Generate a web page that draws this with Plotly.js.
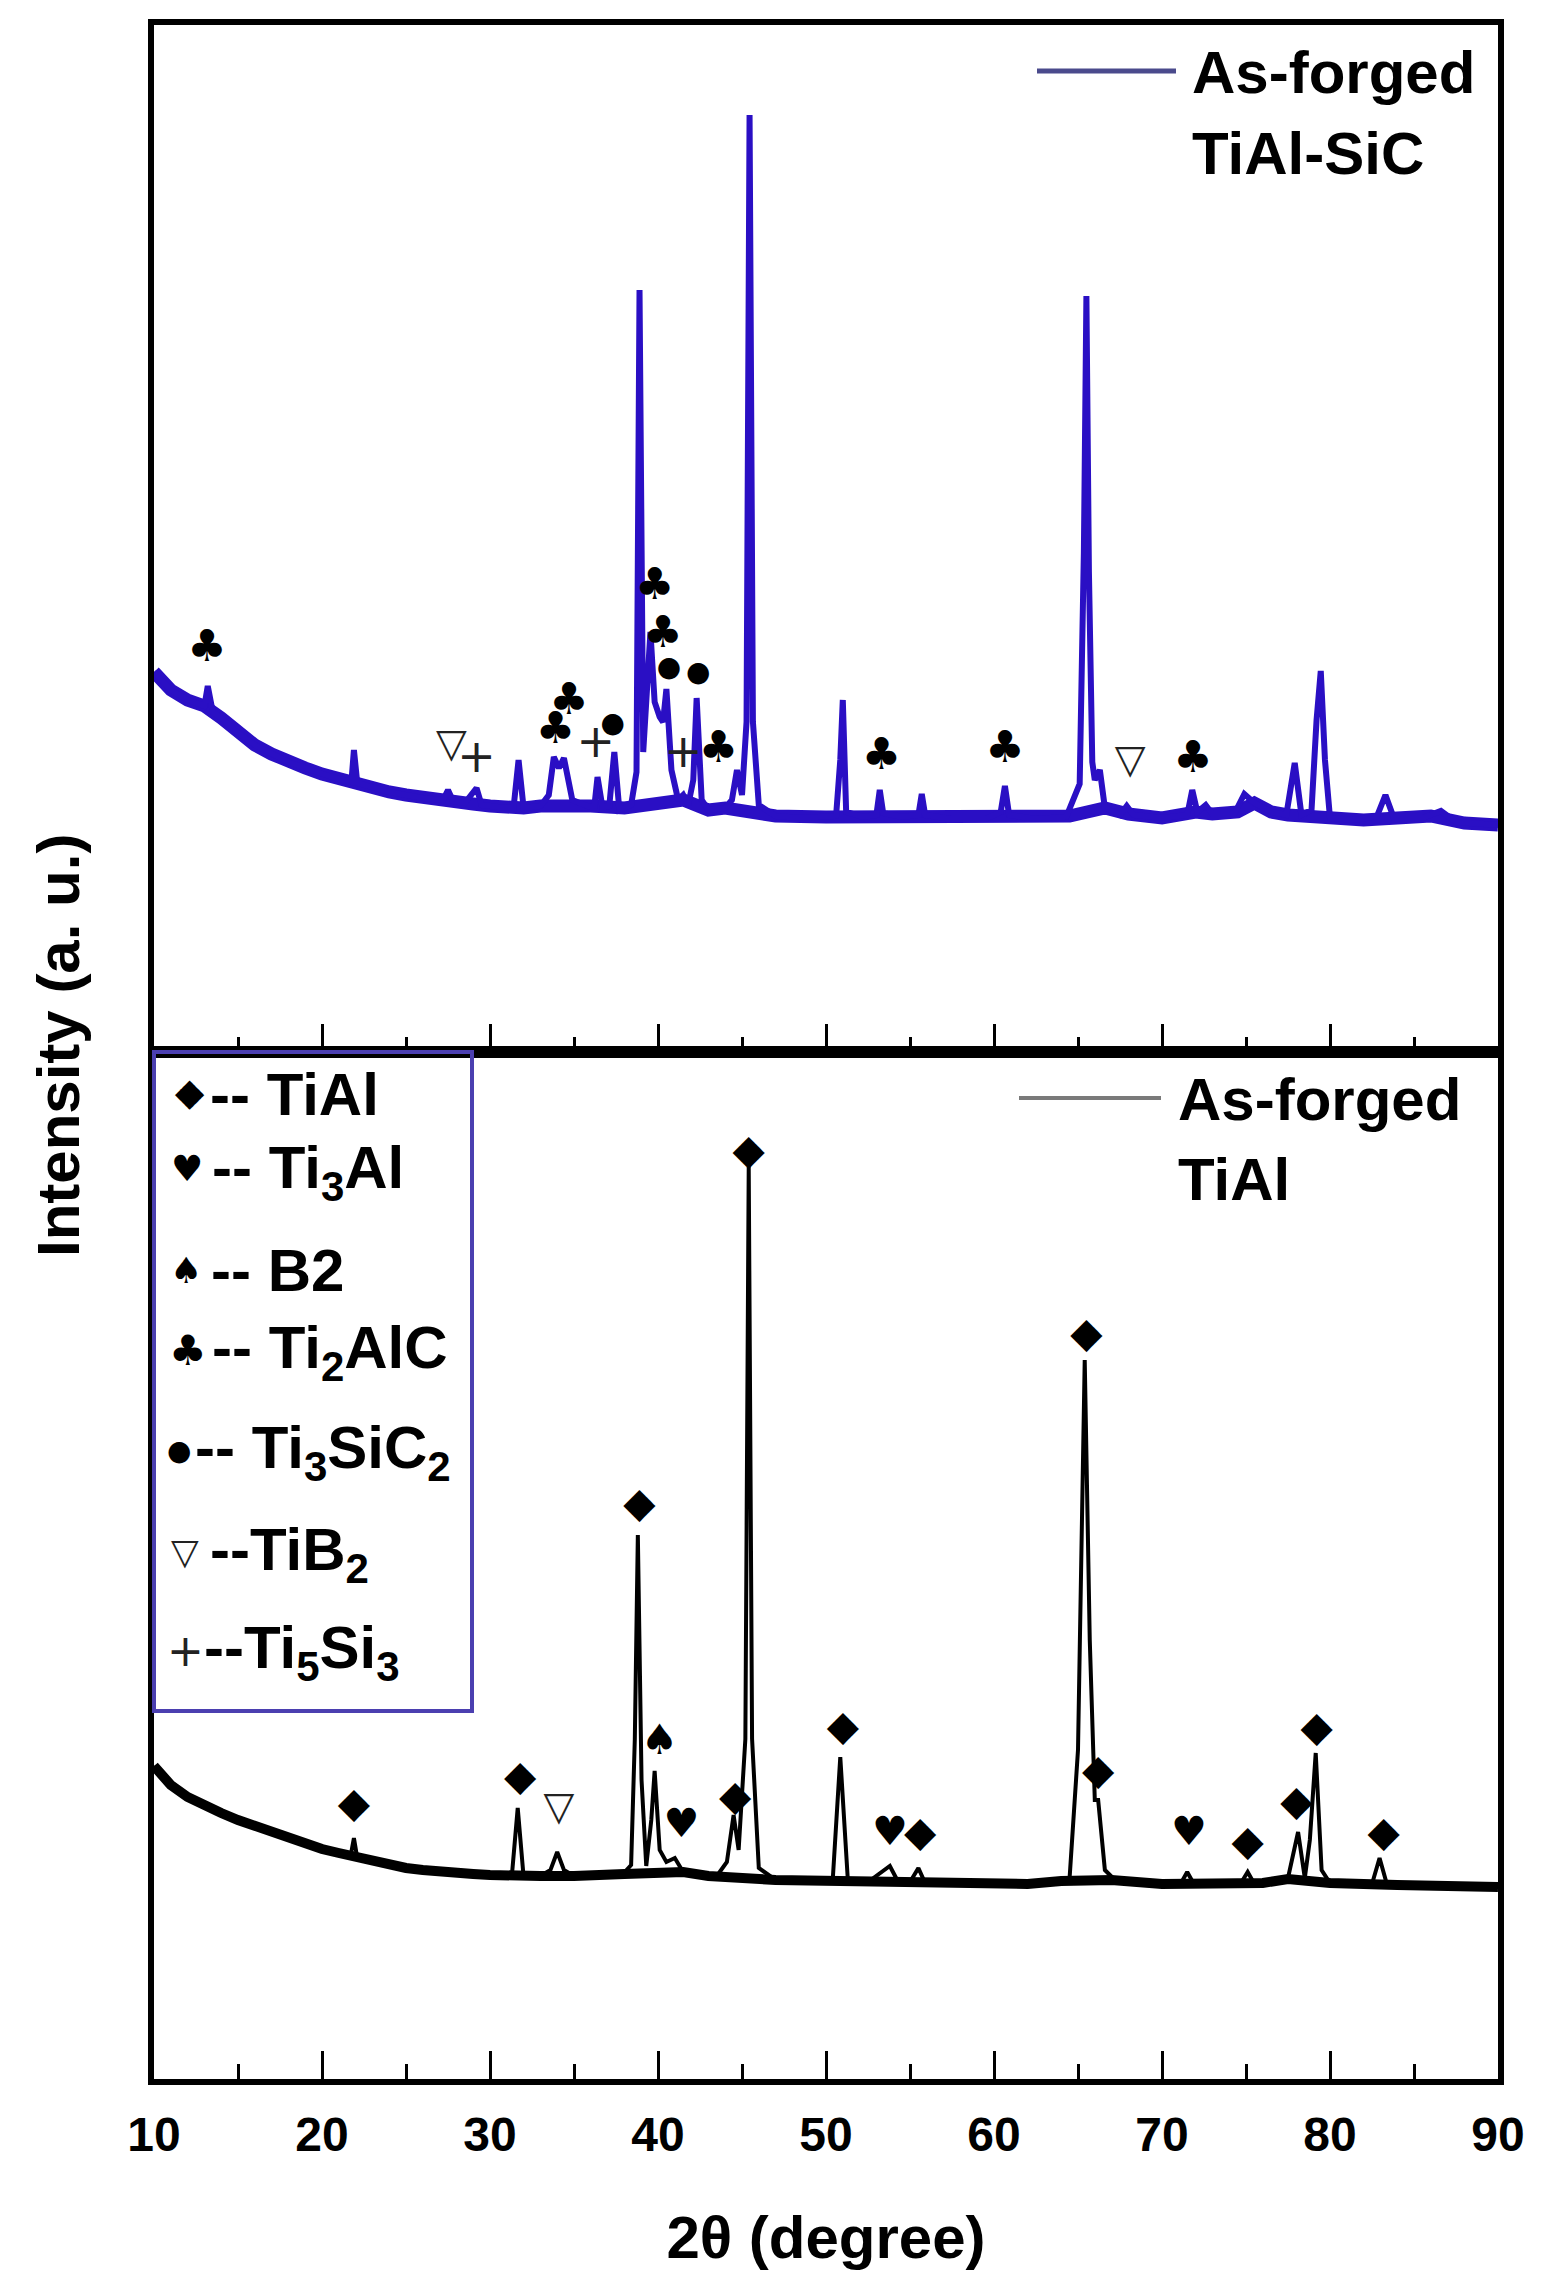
<!DOCTYPE html>
<html>
<head>
<meta charset="utf-8">
<script src="https://cdn.plot.ly/plotly-3.0.1.min.js"></script>
<style>html,body{margin:0;padding:0;background:#fff;}#chart{width:1545px;height:2296px;}</style>
</head>
<body>
<div id="chart"></div>
<script>
// ---- Data (2θ in degrees, intensity in a.u.) ----
// Upper pattern: As-forged TiAl-SiC
const sicScan = [[10.0,380],[11,362],[12,352],[13.0,346],[13.2,366],[13.5,340],[14,334],[15,319],[16,307],[17,298],[18,290],[19,284],[20,278],[21,273],[21.75,270],[21.9,302],[22.1,269],[23,264],[24,260],[25,257],[26,254],[27.2,252],[27.5,262],[27.8,251],[28.5,249],[29.2,264],[29.5,247],[30.5,245],[31.4,244],[31.7,292],[32.0,244],[33.0,246],[33.5,257],[33.8,295],[34.1,284],[34.4,294],[34.9,252],[35.8,246],[36.2,244],[36.4,275],[36.7,244],[37.1,246],[37.4,300],[37.7,242],[38.4,247],[38.72,280],[38.9,762],[39.12,300],[39.55,420],[39.8,350],[40.1,335],[40.3,330],[40.5,363],[40.8,282],[41.2,252],[41.5,257],[41.8,247],[42.1,272],[42.3,354],[42.6,252],[43.0,242],[44.0,244],[44.4,252],[44.7,282],[45.0,257],[45.27,330],[45.45,937],[45.65,330],[46.0,247],[47,236],[48.5,234],[50.6,236],[50.85,292],[51.0,352],[51.2,240],[52.2,235],[53.0,237],[53.2,262],[53.4,239],[54.5,235],[55.5,237],[55.7,258],[55.9,237],[57.5,233],[59.5,233],[60.4,240],[60.65,266],[60.9,237],[62.5,233],[64.3,235],[65.1,268],[65.35,500],[65.5,756],[65.65,480],[65.85,290],[66.0,272],[66.3,282],[66.6,244],[67.5,237],[67.9,246],[68.3,237],[70,234],[71.5,237],[71.8,262],[72.1,240],[72.6,247],[73.0,238],[74.3,238],[74.9,258],[75.5,249],[76.5,240],[77.4,237],[77.9,289],[78.3,237],[78.9,242],[79.2,332],[79.45,381],[79.7,292],[80.0,234],[81.5,232],[82.8,236],[83.3,257],[83.8,234],[85.5,234],[86.6,241],[87.5,230],[89,228],[90,227]];
// Noisy background band of the upper pattern (peaks left out)
const sicBackground = [[10,380],[11,362],[12,352],[13,346],[14,334],[15,319],[16,307],[17,298],[18,290],[19,284],[20,278],[21,273],[22,270],[23,264],[24,260],[25,257],[26,254],[27,252],[28,250],[29,248],[30,246],[31,244],[32,244],[33,246],[35,248],[36,246],[37,245],[38,244],[41.5,252],[43,242],[44,244],[46.5,240],[47,236],[50,235],[52,235],[55,236],[58,233],[60,234],[62,233],[64.5,236],[66.6,244],[68,238],[70,234],[72,240],[73,238],[74.5,240],[75.5,249],[76.5,240],[77.5,237],[80,234],[82,232],[84,234],[86,236],[88,229],[90,227]];

// Lower pattern: As-forged TiAl
const tialScan = [[10,313],[11,294],[12,282],[13,273],[14,266],[15,259],[16,253],[17,246],[18,240],[19,235],[20,230],[21,226],[21.7,223],[21.9,241],[22.1,221],[23,217],[24,214],[25,211],[26,209],[27,207],[28,206],[29,205],[30,204],[31.3,203],[31.65,271],[32.0,202],[33.0,203],[33.6,209],[34.0,227],[34.4,209],[35,203],[36.5,202],[37.8,203],[38.4,214],[38.62,340],[38.8,544],[39.02,299],[39.3,213],[39.6,259],[39.8,308],[40.1,229],[40.5,217],[41.0,221],[41.5,207],[42.5,202],[43.5,203],[44.1,217],[44.5,264],[44.8,229],[45.2,340],[45.4,912],[45.6,340],[46.0,211],[47,199],[48.5,197],[50.4,199],[50.85,322],[51.3,199],[52.5,197],[53.8,213],[54.3,197],[55.0,197],[55.5,211],[55.9,196],[58,195],[62,195],[64.5,201],[65.0,329],[65.4,719],[65.7,439],[66.0,279],[66.2,279],[66.6,209],[67.2,199],[69,195],[71.1,195],[71.5,207],[71.9,195],[74.7,196],[75.1,207],[75.5,195],[77.5,201],[78.1,247],[78.5,201],[78.8,239],[79.15,326],[79.5,209],[80,196],[82.5,195],[82.95,221],[83.4,194],[86,193],[88,194],[90,192]];
// Noisy background band of the lower pattern (peaks left out)
const tialBackground = [[10,313],[11,294],[12,282],[13,273],[14,266],[15,259],[16,253],[17,246],[18,240],[19,235],[20,230],[21,226],[22,222],[23,217],[24,214],[25,211],[26,209],[27,207],[28,206],[29,205],[30,204],[31,203],[33,203],[35,203],[37,203],[38,205],[41.5,207],[43,203],[47,199],[50,198],[52,197],[55,197],[58,195],[62,195],[64,198],[67,199],[70,195],[73,196],[76,196],[77.5,200],[80,196],[84,194],[88,194],[90,192]];

// Phase identification marks
const sicMarkX   = [13.15, 27.7, 29.2, 33.9, 34.7, 36.3, 37.3, 39.8, 40.3, 40.65, 41.5, 42.4, 43.6, 53.3, 60.65, 68.1, 71.85];
const sicMarkY   = [402, 305, 292, 320, 349, 307, 327, 464, 416, 383, 297, 378, 301, 294, 301, 289, 291];
const sicMarkSym = ['♣','▽','+','♣','♣','+','●','♣','♣','●','+','●','♣','♣','♣','▽','♣'];

const tialMarkX   = [21.9, 31.8, 34.1, 38.9, 40.1, 41.4, 44.6, 45.4, 51.0, 53.8, 55.6, 65.5, 66.2, 71.6, 75.1, 78.0, 79.2, 83.2];
const tialMarkY   = [273, 300, 269, 573, 336, 252, 280, 926, 350, 244, 244, 743, 306, 244, 235, 275, 349, 244];
const tialMarkSym = ['◆','◆','▽','◆','♠','♥','◆','◆','◆','♥','◆','◆','◆','♥','◆','◆','◆','◆'];

// Phase key
const phaseSym  = ['◆','♥','♠','♣','●','▽','+'];
const phaseName = ['-- TiAl','-- Ti<sub>3</sub>Al','-- B2','-- Ti<sub>2</sub>AlC','-- Ti<sub>3</sub>SiC<sub>2</sub>','--TiB<sub>2</sub>','--Ti<sub>5</sub>Si<sub>3</sub>'];

const xTicks = [10,20,30,40,50,60,70,80,90];

// ---- Styling ----
const FONT = 'Liberation Sans, Arial, sans-serif';
const SYMFONT = 'DejaVu Sans, sans-serif';
const symSize = {'♣':44,'▽':40,'+':46,'●':28,'◆':42,'♥':40,'♠':42};
const keySymSize = {'♣':42,'▽':36,'+':44,'●':28,'◆':38,'♥':36,'♠':36};
const symColor = {'▽':'#222','+':'#222'};
const BLUE = '#2a0fc4';

const traces = [
  {x: sicBackground.map(p=>p[0]), y: sicBackground.map(p=>p[1]), xaxis:'x2', yaxis:'y2', type:'scatter', mode:'lines',
   line:{color:BLUE, width:13}, hoverinfo:'skip', showlegend:false},
  {x: sicScan.map(p=>p[0]), y: sicScan.map(p=>p[1]), xaxis:'x2', yaxis:'y2', type:'scatter', mode:'lines',
   line:{color:BLUE, width:6}, hoverinfo:'skip', showlegend:false},
  {x: tialBackground.map(p=>p[0]), y: tialBackground.map(p=>p[1]), xaxis:'x', yaxis:'y', type:'scatter', mode:'lines',
   line:{color:'#000', width:10}, hoverinfo:'skip', showlegend:false},
  {x: tialScan.map(p=>p[0]), y: tialScan.map(p=>p[1]), xaxis:'x', yaxis:'y', type:'scatter', mode:'lines',
   line:{color:'#000', width:4}, hoverinfo:'skip', showlegend:false},
  {x: sicMarkX, y: sicMarkY, text: sicMarkSym, xaxis:'x2', yaxis:'y2', type:'scatter', mode:'text',
   textposition:'middle center', textfont:{family:SYMFONT, size: sicMarkSym.map(s=>symSize[s]), color: sicMarkSym.map(s=>symColor[s]||'#000')},
   hoverinfo:'skip', showlegend:false},
  {x: tialMarkX, y: tialMarkY, text: tialMarkSym, xaxis:'x', yaxis:'y', type:'scatter', mode:'text',
   textposition:'middle center', textfont:{family:SYMFONT, size: tialMarkSym.map(s=>symSize[s]), color: tialMarkSym.map(s=>symColor[s]||'#000')},
   hoverinfo:'skip', showlegend:false}
];

const L = 154, R = 1498, T = 25, B = 2079;
const px = v => (v - L) / (R - L);
const py = v => (B - v) / (B - T);

const axisCommon = {
  range:[10,90], tickmode:'array', tickvals:xTicks, ticks:'inside', ticklen:28, tickwidth:3, tickcolor:'#000',
  minor:{ticks:'inside', ticklen:15, tickwidth:3, tickcolor:'#000', dtick:5, tick0:5, showgrid:false},
  showline:true, linewidth:6, linecolor:'#000', mirror:true, showgrid:false, zeroline:false
};

const annotations = [];
// y-axis title spanning both panels
annotations.push({xref:'paper', yref:'paper', x:px(58), y:py(1046), xanchor:'center', yanchor:'middle',
  text:'<b>Intensity (a. u.)</b>', textangle:-90, showarrow:false, font:{family:FONT, size:60, color:'#000'}});
// curve keys
annotations.push({xref:'paper', yref:'paper', x:px(1190), y:py(72), xanchor:'left', yanchor:'middle',
  text:'<b>As-forged</b>', showarrow:false, font:{family:FONT, size:60, color:'#000'}});
annotations.push({xref:'paper', yref:'paper', x:px(1190), y:py(153), xanchor:'left', yanchor:'middle',
  text:'<b>TiAl-SiC</b>', showarrow:false, font:{family:FONT, size:60, color:'#000'}});
annotations.push({xref:'paper', yref:'paper', x:px(1176), y:py(1100), xanchor:'left', yanchor:'middle',
  text:'<b>As-forged</b>', showarrow:false, font:{family:FONT, size:60, color:'#000'}});
annotations.push({xref:'paper', yref:'paper', x:px(1176), y:py(1179), xanchor:'left', yanchor:'middle',
  text:'<b>TiAl</b>', showarrow:false, font:{family:FONT, size:60, color:'#000'}});
// phase key: symbol and label
const keyY = [1092, 1168, 1270, 1350, 1450, 1551, 1650];
const keyTextY = [1094, 1172, 1270, 1352, 1452, 1554, 1652];
const keySymX = [190, 187, 186, 188, 179, 185, 185];
const keyTextX = [208, 210, 209, 210, 193, 208, 202];
phaseSym.forEach((s,i)=>{
  annotations.push({xref:'paper', yref:'paper', x:px(keySymX[i]), y:py(keyY[i]), xanchor:'center', yanchor:'middle',
    text:s, showarrow:false, font:{family:SYMFONT, size:keySymSize[s], color:symColor[s]||'#000'}});
  annotations.push({xref:'paper', yref:'paper', x:px(keyTextX[i]), y:py(keyTextY[i]), xanchor:'left', yanchor:'middle', align:'left',
    text:'<b>'+phaseName[i]+'</b>', showarrow:false, font:{family:FONT, size:60, color:'#000'}});
});

const shapes = [
  {type:'rect', xref:'paper', yref:'paper', x0:px(154), x1:px(472), y0:py(1711), y1:py(1052), line:{color:'#4b3fb0', width:4}},
  {type:'line', xref:'paper', yref:'paper', x0:px(1037), x1:px(1176), y0:py(71), y1:py(71), line:{color:'#4a4a8c', width:5}},
  {type:'line', xref:'paper', yref:'paper', x0:px(1019), x1:px(1161), y0:py(1098), y1:py(1098), line:{color:'#7a7a7a', width:4}}
];

const layout = {
  width:1545, height:2296, margin:{l:L, r:1545-R, t:T, b:2296-B},
  paper_bgcolor:'#fff', plot_bgcolor:'#fff', showlegend:false,
  font:{family:FONT, color:'#000'},
  xaxis: Object.assign({}, axisCommon, {anchor:'y', domain:[0,1],
    tickfont:{family:FONT, size:48, color:'#000', weight:'bold'}, ticklabelstandoff:8,
    title:{text:'<b>2θ (degree)</b>', font:{family:FONT, size:60, color:'#000'}, standoff:58}}),
  xaxis2: Object.assign({}, axisCommon, {anchor:'y2', matches:'x', showticklabels:false}),
  yaxis: {domain:[0,0.5], range:[0,1027], showticklabels:false, ticks:'', showline:true, linewidth:6, linecolor:'#000', mirror:true, showgrid:false, zeroline:false},
  yaxis2:{domain:[0.5,1], range:[0,1027], showticklabels:false, ticks:'', showline:true, linewidth:6, linecolor:'#000', mirror:true, showgrid:false, zeroline:false},
  annotations: annotations,
  shapes: shapes
};

Plotly.newPlot('chart', traces, layout, {staticPlot:true, displayModeBar:false});
</script>
</body>
</html>
